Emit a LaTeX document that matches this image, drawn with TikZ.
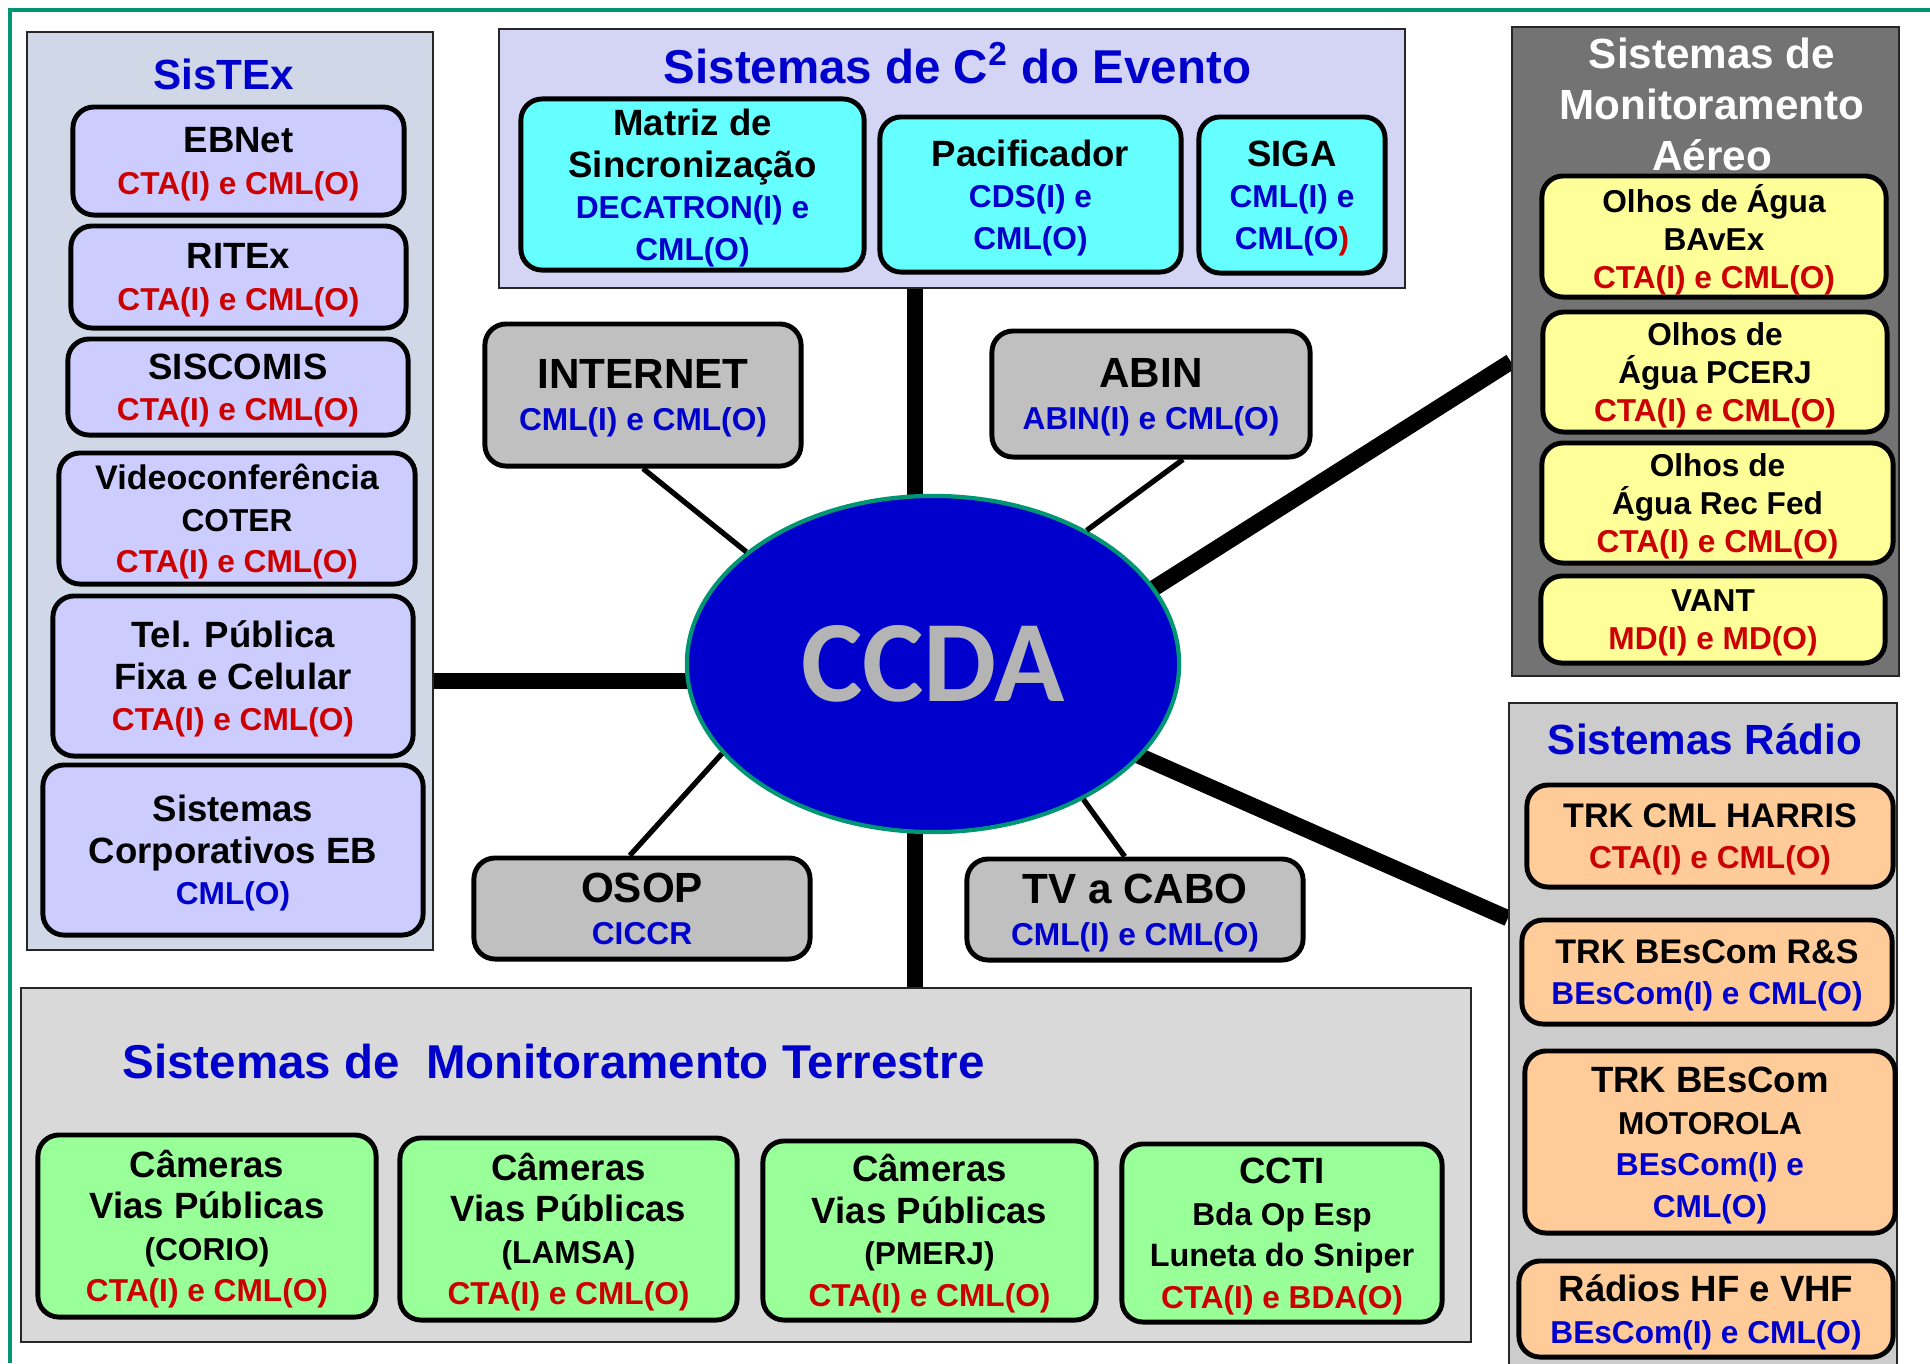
\documentclass[tikz,border=0pt]{standalone}
\usepackage{fontspec}
\setmainfont{Liberation Sans}
\newfontfamily\ccdafont{Carlito}
\usepackage{tikz}
\usetikzlibrary{shapes,backgrounds}
\usepackage{xcolor}

\definecolor{framegreen}{RGB}{0,150,115}
\definecolor{titleblue}{RGB}{0,0,204}
\definecolor{ctared}{RGB}{204,0,0}
\definecolor{sistexbg}{RGB}{208,216,232}
\definecolor{lavender}{RGB}{204,204,255}
\definecolor{eventobg}{RGB}{212,212,244}
\definecolor{cyanbox}{RGB}{102,255,255}
\definecolor{greybox}{RGB}{192,192,192}
\definecolor{aereobg}{RGB}{115,115,115}
\definecolor{yellowbox}{RGB}{255,255,153}
\definecolor{radiobg}{RGB}{204,204,204}
\definecolor{orangebox}{RGB}{255,204,153}
\definecolor{terrbg}{RGB}{217,217,217}
\definecolor{greenbox}{RGB}{153,255,153}
\definecolor{ccdablue}{RGB}{0,0,204}
\definecolor{ccdagray}{RGB}{180,180,180}

\newcommand{\nmfont}{\fontsize{10.4}{11.8}\selectfont\bfseries}
\newcommand{\cdfont}{\fontsize{9}{10.8}\selectfont}
\newcommand{\smfont}{\fontsize{9}{10.8}\selectfont\bfseries}
\newcommand{\bgfont}{\fontsize{12}{14}\selectfont}
\newcommand{\redtxt}[1]{\textcolor{ctared}{\cdfont #1}}
\newcommand{\bluetxt}[1]{\textcolor{titleblue}{\cdfont #1}}

\tikzset{
  grpanel/.style={draw=black!85, line width=0.6pt, inner sep=0pt},
  sysbox/.style={draw=black, line width=1.4pt, rounded corners=6pt, inner sep=0pt, align=center, font=\nmfont,
    text depth=-1.4pt},
  ttl/.style={inner sep=0pt, align=center, text=titleblue},
  trunk/.style={line width=4.6pt, shorten <=-6pt},
  spoke/.style={line width=1.5pt}
}

\begin{document}
\begin{tikzpicture}[x=0.01cm, y=-0.01cm]
  \useasboundingbox (0,0) rectangle (1930,1363);

  % Frame
  \draw[framegreen, line width=1.4pt] (1930,10) -- (10,10) -- (10,1363);

  % Panels
  \node[grpanel, fill=sistexbg, minimum width=4.06cm, minimum height=9.18cm] (sistex) at (230,491) {};
  \node[grpanel, fill=eventobg, minimum width=9.06cm, minimum height=2.59cm] (evento) at (952,158.5) {};
  \node[grpanel, fill=aereobg, minimum width=3.87cm, minimum height=6.49cm] (aereo) at (1705.5,351.5) {};
  \node[grpanel, fill=radiobg, minimum width=3.88cm, minimum height=6.65cm] (radio) at (1703,1035.5) {};
  \node[grpanel, fill=terrbg, minimum width=14.50cm, minimum height=3.54cm] (terrestre) at (746,1165) {};

  % SisTEx
  \node[ttl, font=\fontsize{12}{14}\selectfont\bfseries] (sistextitle) at (224,74) {SisTEx};
  \node[sysbox, fill=lavender, minimum width=3.31cm, minimum height=1.08cm] (ebnet) at (238.5,161) {EBNet\\\redtxt{CTA(I) e CML(O)}};
  \node[sysbox, fill=lavender, minimum width=3.35cm, minimum height=1.02cm] (ritex) at (238.5,277) {RITEx\\\redtxt{CTA(I) e CML(O)}};
  \node[sysbox, fill=lavender, minimum width=3.40cm, minimum height=0.96cm] (siscomis) at (238,387) {SISCOMIS\\\redtxt{CTA(I) e CML(O)}};
  \node[sysbox, fill=lavender, minimum width=3.56cm, minimum height=1.31cm] (video) at (237,518.5) {{\fontsize{9.7}{11}\selectfont Videoconferência}\\{\smfont COTER}\\\redtxt{CTA(I) e CML(O)}};
  \node[sysbox, fill=lavender, minimum width=3.60cm, minimum height=1.60cm] (telpub) at (233,676) {Tel. Pública\\Fixa e Celular\\\redtxt{CTA(I) e CML(O)}};
  \node[sysbox, fill=lavender, minimum width=3.80cm, minimum height=1.70cm] (corp) at (233,850) {Sistemas\\Corporativos EB\\\bluetxt{CML(O)}};

  % Sistemas de C2 do Evento
  \node[ttl, font=\fontsize{13.5}{16}\selectfont\bfseries] (eventotitle) at (957.5,63) {Sistemas de C\textsuperscript{2} do Evento};
  \node[sysbox, fill=cyanbox, minimum width=3.43cm, minimum height=1.71cm] (matriz) at (692.5,184.5) {Matriz de\\Sincronização\\\bluetxt{DECATRON(I) e}\\\bluetxt{CML(O)}};
  \node[sysbox, fill=cyanbox, minimum width=3.01cm, minimum height=1.55cm] (pacif) at (1030.5,194.5) {Pacificador\\\bluetxt{CDS(I) e}\\\bluetxt{CML(O)}};
  \node[sysbox, fill=cyanbox, minimum width=1.86cm, minimum height=1.56cm] (siga) at (1292,195) {SIGA\\\bluetxt{CML(I) e}\\\bluetxt{CML(O}\redtxt{)}};

  % Center
  \node[ellipse, draw=framegreen, line width=1.2pt, fill=ccdablue, minimum width=4.92cm, minimum height=3.36cm, inner sep=0pt] (ccda) at (933,664) {\ccdafont\fontsize{33}{36}\selectfont\bfseries\color{ccdagray}CCDA};

  % Linked systems
  \node[sysbox, fill=greybox, minimum width=3.16cm, minimum height=1.42cm] (internet) at (643,395) {{\bgfont INTERNET}\\\bluetxt{CML(I) e CML(O)}};
  \node[sysbox, fill=greybox, minimum width=3.18cm, minimum height=1.26cm] (abin) at (1151,394) {{\bgfont ABIN}\\\bluetxt{ABIN(I) e CML(O)}};
  \node[sysbox, fill=greybox, minimum width=3.36cm, minimum height=1.01cm] (osop) at (642,908.5) {{\bgfont OSOP}\\\bluetxt{CICCR}};
  \node[sysbox, fill=greybox, minimum width=3.36cm, minimum height=1.01cm] (tvcabo) at (1135,909.5) {{\bgfont TV a CABO}\\\bluetxt{CML(I) e CML(O)}};

  % Monitoramento Aereo
  \node[ttl, text=white, font=\fontsize{12}{14.5}\selectfont\bfseries] (aereotitle) at (1712,104) {Sistemas de\\Monitoramento\\Aéreo};
  \node[sysbox, fill=yellowbox, font=\smfont, minimum width=3.44cm, minimum height=1.21cm] (olhos1) at (1714,236.5) {Olhos de Água\\BAvEx\\\redtxt{CTA(I) e CML(O)}};
  \node[sysbox, fill=yellowbox, font=\smfont, minimum width=3.44cm, minimum height=1.20cm] (olhos2) at (1715,372) {Olhos de\\Água PCERJ\\\redtxt{CTA(I) e CML(O)}};
  \node[sysbox, fill=yellowbox, font=\smfont, minimum width=3.51cm, minimum height=1.20cm] (olhos3) at (1717.5,503) {Olhos de\\Água Rec Fed\\\redtxt{CTA(I) e CML(O)}};
  \node[sysbox, fill=yellowbox, font=\smfont, minimum width=3.44cm, minimum height=0.87cm] (vant) at (1713,619.5) {VANT\\\redtxt{MD(I) e MD(O)}};

  % Radio
  \node[ttl, font=\fontsize{12}{14}\selectfont\bfseries] (radiotitle) at (1705,739) {Sistemas Rádio};
  \node[sysbox, fill=orangebox, minimum width=3.66cm, minimum height=1.02cm] (harris) at (1710,836) {{\fontsize{9.7}{11}\selectfont TRK CML HARRIS}\\\redtxt{CTA(I) e CML(O)}};
  \node[sysbox, fill=orangebox, minimum width=3.70cm, minimum height=1.04cm] (rs) at (1707,972) {{\fontsize{9.7}{11}\selectfont TRK BEsCom R\&S}\\\bluetxt{BEsCom(I) e CML(O)}};
  \node[sysbox, fill=orangebox, minimum width=3.70cm, minimum height=1.82cm] (motorola) at (1710,1142) {TRK BEsCom\\{\smfont MOTOROLA}\\\bluetxt{BEsCom(I) e}\\\bluetxt{CML(O)}};
  \node[sysbox, fill=orangebox, minimum width=3.74cm, minimum height=0.96cm] (hfvhf) at (1706,1309) {Rádios HF e VHF\\\bluetxt{BEsCom(I) e CML(O)}};

  % Monitoramento Terrestre
  \node[ttl, anchor=west, font=\fontsize{13.5}{16}\selectfont\bfseries] (terrtitle) at (122,1062) {Sistemas de\ \ Monitoramento Terrestre};
  \node[sysbox, fill=greenbox, minimum width=3.38cm, minimum height=1.82cm] (corio) at (207,1226) {Câmeras\\Vias Públicas\\{\smfont (CORIO)}\\\redtxt{CTA(I) e CML(O)}};
  \node[sysbox, fill=greenbox, minimum width=3.37cm, minimum height=1.82cm] (lamsa) at (568.5,1229) {Câmeras\\Vias Públicas\\{\smfont (LAMSA)}\\\redtxt{CTA(I) e CML(O)}};
  \node[sysbox, fill=greenbox, minimum width=3.33cm, minimum height=1.79cm] (pmerj) at (929.5,1230.5) {Câmeras\\Vias Públicas\\{\smfont (PMERJ)}\\\redtxt{CTA(I) e CML(O)}};
  \node[sysbox, fill=greenbox, minimum width=3.20cm, minimum height=1.78cm] (ccti) at (1282,1233) {CCTI\\{\smfont Bda Op Esp}\\{\fontsize{9.2}{11}\selectfont Luneta do Sniper}\\\redtxt{CTA(I) e BDA(O)}};

  % Trunk links
  \begin{scope}[on background layer]
    \draw[trunk] (ccda.96) -- (ccda.96 |- evento.south);
    \draw[trunk] (ccda.-96) -- (ccda.-96 |- terrestre.north);
    \draw[trunk] (ccda.184) -- (ccda.184 -| sistex.east);
    \draw[trunk] (ccda.19) -- (aereo.183);
    \draw[trunk] (ccda.-24) -- (radio.149);
  \end{scope}

  % Spokes
  \draw[spoke] (internet.south) -- (ccda.149);
  \draw[spoke] (abin.-64) -- (ccda.41);
  \draw[spoke] (osop.103) -- (ccda.203);
  \draw[spoke] (tvcabo.101) -- (ccda.-42);
\end{tikzpicture}
\end{document}
